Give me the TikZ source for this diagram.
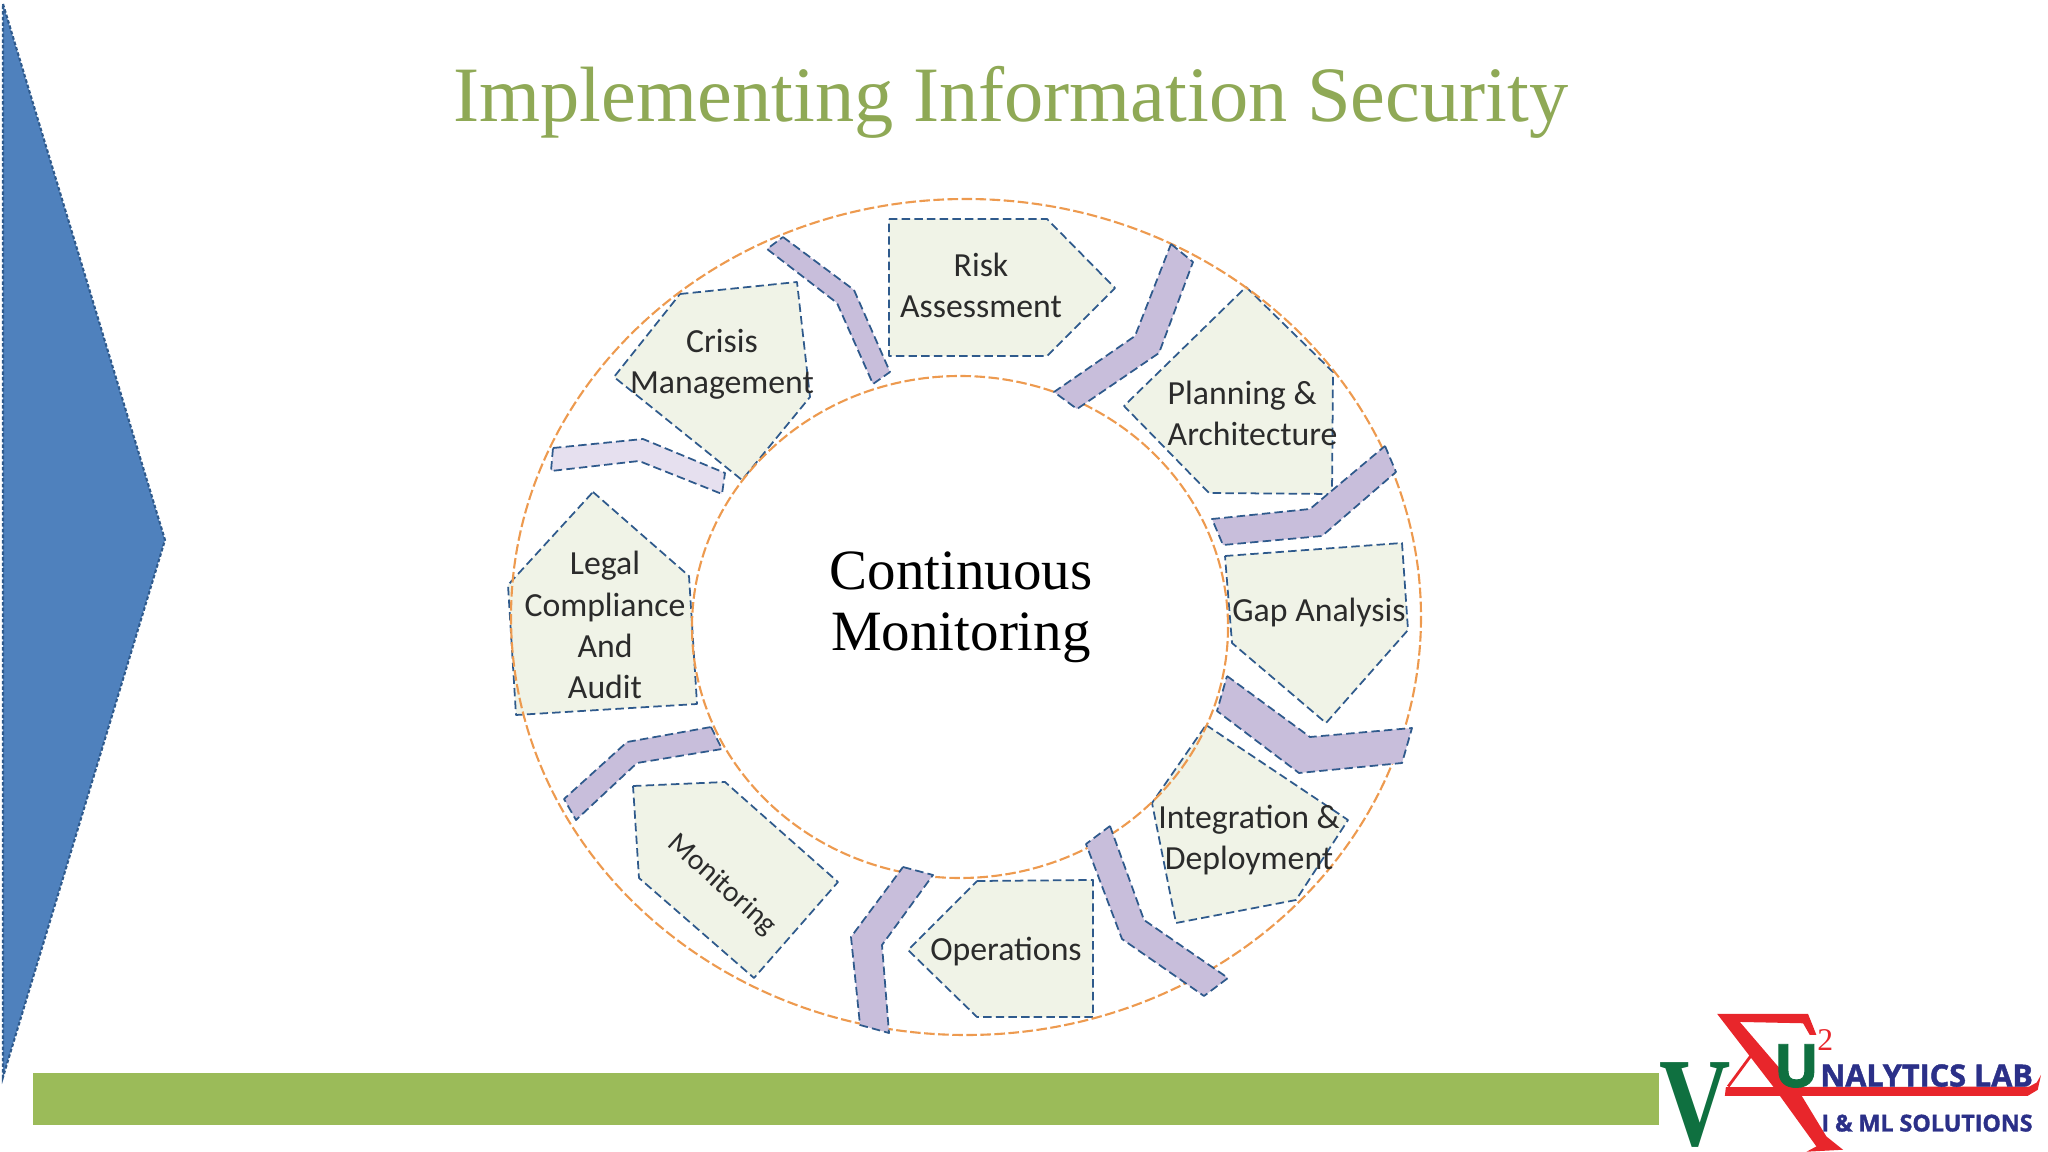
\documentclass[tikz,border=0pt]{standalone}
\usepackage{fontspec}
\setmainfont{Carlito}
\newfontfamily\titlefont{Liberation Serif}
\newfontfamily\logofont[BoldFeatures={FakeBold=1.5}]{Open Sans}
\usetikzlibrary{calc}
\definecolor{titlegreen}{HTML}{8FA956}
\definecolor{barblue}{HTML}{4F81BD}
\definecolor{bargreen}{HTML}{9BBB59}
\definecolor{edgeblue}{HTML}{2F5A8C}
\definecolor{ringorange}{HTML}{ED9A4F}
\definecolor{stagefill}{HTML}{F0F3E7}
\definecolor{linkfill}{HTML}{C8BEDB}
\definecolor{linklight}{HTML}{E6E0EF}
\definecolor{labelgrey}{HTML}{2B2B2B}
\definecolor{logored}{HTML}{E8262B}
\definecolor{logogreen}{HTML}{0F7040}
\definecolor{logonavy}{HTML}{2B3088}
\begin{document}
\begin{tikzpicture}[x=0.01cm,y=-0.01cm,
  stage/.style={draw=edgeblue,fill=stagefill,line width=.5pt,dash pattern=on 2.4pt off 1.2pt,line join=round},
  link/.style={draw=edgeblue,fill=linkfill,line width=.5pt,dash pattern=on 2.4pt off 1.2pt,line join=round},
  ring/.style={draw=ringorange,line width=.6pt,dash pattern=on 3pt off 1pt},
  stagelabel/.style={inner sep=0pt,text=labelgrey,font=\fontsize{9.6}{11.7}\selectfont}]
  \useasboundingbox (0,0) rectangle (2048,1152);
  \fill[barblue] (3,4) -- (165,540) -- (3,1077) -- cycle;
  \draw[edgeblue,line width=.6pt,dash pattern=on 1pt off .6pt] (3,4) -- (165,540) -- (3,1077) -- cycle;
  \fill[bargreen] (33,1073) rectangle (1659,1125);
  \path[stage] (889,219) -- (1047,219) -- (1115,288) -- (1047,356) -- (889,356) -- cycle;
  \path[stage] (1246,287) -- (1333,372) -- (1332,494) -- (1209,493) -- (1124,406) -- cycle;
  \path[stage] (1225,556) -- (1402,543) -- (1408,630) -- (1326,723) -- (1232,643) -- cycle;
  \path[stage] (1206,725) -- (1348,820) -- (1296,900) -- (1176,923) -- (1152,803) -- cycle;
  \path[stage] (977,881) -- (1093,880) -- (1093,1017) -- (977,1017) -- (908,950) -- cycle;
  \path[stage] (633,786) -- (725,782) -- (838,882) -- (754,978) -- (639,878) -- cycle;
  \path[stage] (593,492) -- (689,576) -- (697,704) -- (516,715) -- (508,585) -- cycle;
  \path[stage] (680,294) -- (797,282) -- (810,397) -- (742,480) -- (614,377) -- cycle;
  \draw[ring] (966,617) ellipse [x radius=455,y radius=418];
  \draw[ring] (960,627) ellipse [x radius=268,y radius=251];
  \path[link] (1171,244) -- (1193,262) -- (1159,353) -- (1077,409) -- (1054,392) -- (1135,336) -- cycle;
  \path[link] (1385,446) -- (1396,472) -- (1322,536) -- (1223,545) -- (1212,519) -- (1310,509) -- cycle;
  \path[link] (1227,676) -- (1310,737) -- (1412,728) -- (1402,763) -- (1299,773) -- (1217,711) -- cycle;
  \path[link] (1110,826) -- (1144,920) -- (1228,978) -- (1204,996) -- (1122,939) -- (1086,844) -- cycle;
  \path[link] (903,867) -- (933,875) -- (882,945) -- (889,1033) -- (860,1025) -- (851,937) -- cycle;
  \path[link] (711,727) -- (722,749) -- (637,763) -- (576,820) -- (564,799) -- (627,742) -- cycle;
  \path[link,fill=linklight] (553,448) -- (643,439) -- (725,473) -- (722,494) -- (639,461) -- (551,471) -- cycle;
  \path[link] (783,237) -- (854,290) -- (890,372) -- (873,384) -- (837,303) -- (767,249) -- cycle;
  \node[inner sep=0pt,text=titlegreen,font=\titlefont\fontsize{22.3}{26}\selectfont] (title) at (1011,102) {Implementing Information Security};
  \node[inner sep=0pt,align=center,font=\titlefont\fontsize{16.2}{17.4}\selectfont] (centre) at (961,607) {Continuous\\Monitoring};
  \node[stagelabel,align=center] (risk) at (981,285) {Risk\\Assessment};
  \node[stagelabel,align=left,anchor=west] (plan) at (1167,413) {Planning \&\\Architecture};
  \node[stagelabel] (gap) at (1319,613) {Gap Analysis};
  \node[stagelabel,align=center] (integ) at (1249,840) {Integration \&\\Deployment};
  \node[stagelabel] (oper) at (1006,952) {Operations};
  \node[stagelabel,rotate=-42,font=\fontsize{8.4}{10}\selectfont] (monit) at (722,885) {Monitoring};
  \node[stagelabel,align=center] (legal) at (605,625) {Legal\\Compliance\\And\\Audit};
  \node[stagelabel,align=center] (crisis) at (722,364) {Crisis\\Management};
  \begin{scope}[shift={(1640,990)},x=0.00333cm,y=-0.00333cm]
    \fill[logored] (232,72) -- (505,72) -- (530,135) -- (510,135) -- (490,100) -- (300,96) -- (475,300) -- (560,440) -- (610,480) -- (500,486) -- (530,470) -- (400,290) -- cycle;
    \fill[logored] (258,292) -- (1170,290) -- (1192,278) -- (1205,255) -- (1195,300) -- (1165,318) -- (255,318) -- cycle;
    \draw[logored,line width=.8pt] (335,195) -- (265,290);
    \node[inner sep=0pt,text=logogreen,font=\titlefont\bfseries\fontsize{36}{36}\selectfont] (logov) at (165,345) {\scalebox{.78}[1]{V}};
    \node[inner sep=0pt,text=logogreen,font=\logofont\bfseries\fontsize{17}{17}\selectfont] (logou) at (470,228) {U};
    \node[inner sep=0pt,text=logored,font=\titlefont\fontsize{9}{9}\selectfont] (logotwo) at (557,150) {2};
    \node[inner sep=0pt,anchor=base west,text=logonavy,font=\logofont\bfseries\fontsize{8.7}{9}\selectfont] (logolab) at (540,290) {NALYTICS LAB};
    \node[inner sep=0pt,anchor=base west,text=logonavy,font=\logofont\bfseries\fontsize{6.6}{7}\selectfont] (logoml) at (543,425) {I \& ML SOLUTIONS};
  \end{scope}
\end{tikzpicture}
\end{document}
